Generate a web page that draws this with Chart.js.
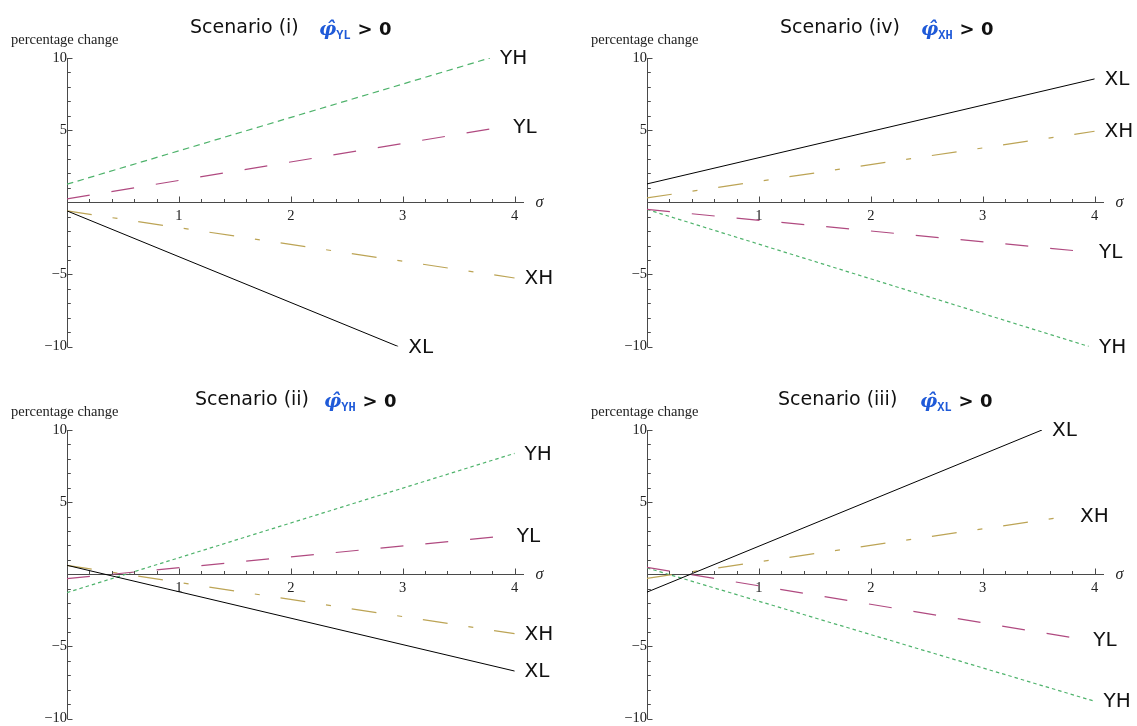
<!DOCTYPE html>
<html>
<head>
<meta charset="utf-8">
<script src="https://cdn.jsdelivr.net/npm/chart.js@4.4.0/dist/chart.umd.min.js"></script>
<style>
  body { margin: 0; background: #fff; width: 1137px; height: 726px; overflow: hidden; position: relative; }
  .panel { position: absolute; width: 557px; height: 363px; }
  .panel canvas { position: absolute; left: 0; top: 0; }
  .ylab { position: absolute; left: 11px; top: 31.5px; font: 14.5px "Liberation Serif", serif; line-height: 14.5px; color: #222; white-space: nowrap; }
  .title { position: absolute; top: 17px; font: 19px "DejaVu Sans", sans-serif; line-height: 19px; color: #111; white-space: nowrap; }
  .phi { position: absolute; top: 17px; line-height: 19px; white-space: nowrap; }
  .phi .g { font: italic bold 19px "DejaVu Serif", serif; color: #1f5ad8; }
  .phi .s { font: bold 12px "Liberation Mono", monospace; color: #1f5ad8; position: relative; top: 4px; }
  .phi .c { font: bold 18px "DejaVu Sans", sans-serif; color: #111; margin-left: 7px; }
</style>
</head>
<body>
<div class="panel" style="left:0;top:0">
  <canvas id="c1" width="557" height="363"></canvas>
  <div class="ylab">percentage change</div>
  <div class="title" style="left:190px">Scenario (i)</div>
  <div class="phi" style="left:319px"><span class="g">φ̂</span><span class="s">YL</span><span class="c">&gt; 0</span></div>
</div>
<div class="panel" style="left:580px;top:0">
  <canvas id="c2" width="557" height="363"></canvas>
  <div class="ylab">percentage change</div>
  <div class="title" style="left:200px">Scenario (iv)</div>
  <div class="phi" style="left:341px"><span class="g">φ̂</span><span class="s">XH</span><span class="c">&gt; 0</span></div>
</div>
<div class="panel" style="left:0;top:372px">
  <canvas id="c3" width="557" height="363"></canvas>
  <div class="ylab">percentage change</div>
  <div class="title" style="left:195px">Scenario (ii)</div>
  <div class="phi" style="left:324px"><span class="g">φ̂</span><span class="s">YH</span><span class="c">&gt; 0</span></div>
</div>
<div class="panel" style="left:580px;top:372px">
  <canvas id="c4" width="557" height="363"></canvas>
  <div class="ylab">percentage change</div>
  <div class="title" style="left:198px">Scenario (iii)</div>
  <div class="phi" style="left:340px"><span class="g">φ̂</span><span class="s">XL</span><span class="c">&gt; 0</span></div>
</div>
<script>
// series and tick labels
const seriesNames = ['XL', 'XH', 'YL', 'YH'];
const xTicks = [1, 2, 3, 4];
const yTicks = [-10, -5, 5, 10];

// each line: value at sigma = 0, then where it ends (sigma, value)
// scenario (i)
const startI = [-0.6, -0.6, 0.23, 1.25];
const endXI = [2.96, 4.0, 3.9, 3.78];
const endYI = [-10, -5.25, 5.23, 10];
// scenario (iv)
const startIV = [1.27, 0.3, -0.5, -0.5];
const endXIV = [4.0, 4.0, 3.95, 3.95];
const endYIV = [8.55, 4.92, -3.45, -10];
// scenario (ii)
const startII = [0.62, 0.62, -0.3, -1.27];
const endXII = [4.0, 4.0, 3.93, 4.0];
const endYII = [-6.71, -4.12, 2.66, 8.38];
// scenario (iii)
const startIII = [-1.24, -0.28, 0.48, 0.44];
const endXIII = [3.53, 3.78, 3.9, 3.99];
const endYIII = [10, 4.04, -4.52, -8.78];

const lineColor = {XL: '#000000', XH: '#bca455', YL: '#b04a80', YH: '#4fb36c'};
const lineDash = {XL: [], XH: [25, 21, 5, 21], YL: [23, 22], YH: [3.5, 3]};

const panels = [
  {id: 'c1', start: startI, endX: endXI, endY: endYI, greenDash: [6.5, 4.5]},
  {id: 'c2', start: startIV, endX: endXIV, endY: endYIV, greenDash: [3.5, 3]},
  {id: 'c3', start: startII, endX: endXII, endY: endYII, greenDash: [3.5, 3]},
  {id: 'c4', start: startIII, endX: endXIII, endY: endYIII, greenDash: [3.5, 3]}
];

const buildDatasets = (start, endX, endY, greenDash) => seriesNames.map((name, i) => ({
  label: name,
  data: [{x: 0, y: start[i]}, {x: endX[i], y: endY[i]}],
  showLine: true,
  borderColor: lineColor[name],
  borderWidth: name === 'XL' ? 1 : 1.2,
  borderDash: name === 'YH' ? greenDash : lineDash[name],
  pointRadius: 0
}));

// small inward ticks (minor every 0.2 on sigma, every 1 on y), sigma label, series names
const axisDecor = {
  id: 'axisDecor',
  afterDraw(chart) {
    const {ctx, chartArea} = chart;
    const sx = chart.scales.x, sy = chart.scales.y;
    const x0 = Math.round(sx.getPixelForValue(0)) + 0.5;
    const y0 = Math.round(sy.getPixelForValue(0)) + 0.5;
    ctx.save();
    ctx.strokeStyle = '#4a4a4a';
    ctx.lineWidth = 1;
    ctx.beginPath();
    for (let k = 1; k <= 20; k++) {
      const px = Math.round(sx.getPixelForValue(k / 5)) + 0.5;
      ctx.moveTo(px, y0);
      ctx.lineTo(px, y0 - (k % 5 === 0 ? 6 : 3.5));
    }
    for (let v = -10; v <= 10; v++) {
      if (v === 0) continue;
      const py = Math.round(sy.getPixelForValue(v)) + 0.5;
      ctx.moveTo(x0, py);
      ctx.lineTo(x0 + (v % 5 === 0 ? 5 : 3.3), py);
    }
    ctx.stroke();

    ctx.fillStyle = '#222';
    ctx.font = 'italic 16px "Liberation Serif", serif';
    ctx.textBaseline = 'alphabetic';
    ctx.fillText('σ', chartArea.right + 12, y0 + 4.5);

    ctx.fillStyle = '#111';
    ctx.font = '20px "DejaVu Sans", sans-serif';
    ctx.textBaseline = 'middle';
    ctx.textAlign = 'left';
    chart.data.datasets.forEach((ds, i) => {
      const pt = chart.getDatasetMeta(i).data[1];
      ctx.fillText(ds.label, pt.x + 10, pt.y + 1);
    });
    ctx.restore();
  }
};

const minus = v => v < 0 ? '\u2212' + Math.abs(v) : String(v);
const tickFont = {family: '"Liberation Serif", serif', size: 14.5};

panels.forEach(p => {
  new Chart(document.getElementById(p.id), {
    type: 'scatter',
    data: {datasets: buildDatasets(p.start, p.endX, p.endY, p.greenDash)},
    options: {
      responsive: false,
      animation: false,
      layout: {padding: {left: 67, right: 33.5, top: 58, bottom: 16.5}},
      plugins: {legend: {display: false}, tooltip: {enabled: false}},
      scales: {
        x: {
          type: 'linear',
          position: {y: 0},
          min: 0, max: 4.08,
          afterBuildTicks: s => { s.ticks = xTicks.map(v => ({value: v})); },
          grid: {display: false, drawTicks: false},
          border: {display: true, color: '#4a4a4a', width: 1},
          ticks: {autoSkip: false, maxRotation: 0, minRotation: 0, padding: 5, color: '#222', font: tickFont,
                  callback: v => String(v)}
        },
        y: {
          type: 'linear',
          position: {x: 0},
          min: -10, max: 10,
          afterBuildTicks: s => { s.ticks = yTicks.map(v => ({value: v})); },
          grid: {display: false, drawTicks: false},
          border: {display: true, color: '#4a4a4a', width: 1},
          ticks: {autoSkip: false, padding: 5, color: '#222', font: tickFont,
                  callback: v => minus(v)}
        }
      }
    },
    plugins: [axisDecor]
  });
});
</script>
</body>
</html>
